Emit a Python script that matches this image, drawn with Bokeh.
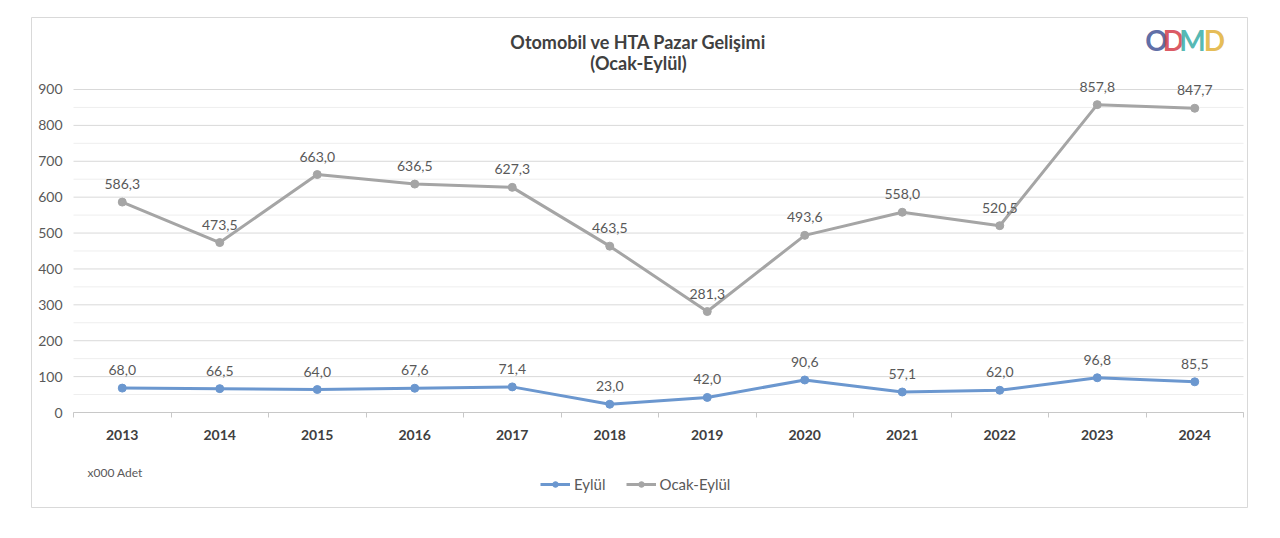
from bokeh.plotting import figure
from bokeh.models import (ColumnDataSource, FixedTicker, Label, Legend, LegendItem)
from bokeh.core.properties import value
from bokeh.embed import file_html
from bokeh.resources import INLINE

years = ["2013", "2014", "2015", "2016", "2017", "2018", "2019", "2020", "2021", "2022", "2023", "2024"]
ocak_eylul = [586.3, 473.5, 663.0, 636.5, 627.3, 463.5, 281.3, 493.6, 558.0, 520.5, 857.8, 847.7]
eylul = [68.0, 66.5, 64.0, 67.6, 71.4, 23.0, 42.0, 90.6, 57.1, 62.0, 96.8, 85.5]
y_ticks = [0, 100, 200, 300, 400, 500, 600, 700, 800, 900]
y_minor = [50, 150, 250, 350, 450, 550, 650, 750, 850]

FONT = "Lato"
TXT = "#595959"
BLUE = "#6b97cf"
GRAY = "#a5a5a5"

xs = list(range(1, len(years) + 1))
x_lo, x_hi = xs[0] - 0.5, xs[-1] + 0.5
fmt = lambda v: f"{v:.1f}".replace(".", ",")

src_a = ColumnDataSource(dict(x=xs, y=ocak_eylul, lab=[fmt(v) for v in ocak_eylul]))
src_b = ColumnDataSource(dict(x=xs, y=eylul, lab=[fmt(v) for v in eylul]))

# The frame is the whole white card; the plot area is a part of it.
p = figure(width=1262, height=536, x_range=(0.0692, 12.541), y_range=(-264.7, 1100.6),
           output_backend="svg", toolbar_location=None,
           min_border_left=31, min_border_right=15, min_border_top=17, min_border_bottom=29)
p.outline_line_color = "#d9d9d9"
p.background_fill_color = "white"
p.border_fill_color = "white"
p.xgrid.grid_line_color = None
p.ygrid.grid_line_color = None

# horizontal gridlines across the plot area only
p.segment(x0=x_lo, x1=x_hi, y0=y_minor, y1=y_minor, line_color="#eeeeee", line_width=1,
          level="underlay")
p.segment(x0=x_lo, x1=x_hi, y0=y_ticks, y1=y_ticks, line_color="#d9d9d9", line_width=1,
          level="underlay")

# y axis (labels only)
p.yaxis.fixed_location = x_lo - 0.04
p.yaxis.ticker = FixedTicker(ticks=y_ticks)
p.yaxis.axis_line_color = None
p.yaxis.major_tick_line_color = None
p.yaxis.minor_tick_line_color = None
p.yaxis.major_tick_out = 0
p.yaxis.minor_tick_out = 0
p.yaxis.major_label_text_font = FONT
p.yaxis.major_label_text_font_size = "14px"
p.yaxis.major_label_text_color = TXT
p.yaxis.major_label_standoff = 7

# x axis at y = 0
p.xaxis.fixed_location = 0
p.xaxis.bounds = (x_lo, x_hi)
p.xaxis.ticker = FixedTicker(ticks=xs, minor_ticks=[x - 0.5 for x in xs] + [x_hi])
p.xaxis.major_label_overrides = {x: y for x, y in zip(xs, years)}
p.xaxis.axis_line_color = "#c8c8c8"
p.xaxis.major_tick_line_color = None
p.xaxis.major_tick_out = 0
p.xaxis.major_tick_in = 0
p.xaxis.minor_tick_line_color = "#c8c8c8"
p.xaxis.minor_tick_out = 5
p.xaxis.minor_tick_in = 0
p.xaxis.major_label_text_font = FONT
p.xaxis.major_label_text_font_size = "14px"
p.xaxis.major_label_text_font_style = "bold"
p.xaxis.major_label_text_color = "#404040"
p.xaxis.major_label_standoff = 12

# series
la = p.line("x", "y", source=src_a, line_color=GRAY, line_width=3)
sa = p.scatter("x", "y", source=src_a, size=8, color=GRAY)
lb = p.line("x", "y", source=src_b, line_color=BLUE, line_width=3)
sb = p.scatter("x", "y", source=src_b, size=8, color=BLUE)

for src in (src_a, src_b):
    p.text("x", "y", text="lab", source=src, y_offset=-13, text_align="center",
           text_baseline="bottom", text_font=value(FONT), text_font_size="14px",
           text_color=TXT)

# title (two lines)
for txt, yy in (("Otomobil ve HTA Pazar Gelişimi", 466), ("(Ocak-Eylül)", 445)):
    p.add_layout(Label(x=607, y=yy, x_units="screen", y_units="screen", text=txt,
                       text_align="center", text_baseline="middle", text_font=FONT,
                       text_font_size="18px", text_font_style="bold", text_color="#404040"))

# logo
for ch, cx, col in zip("ODMD", [1125, 1142, 1161, 1183], ["#4b5b9b", "#d6444f", "#3fb0aa", "#e2b441"]):
    p.add_layout(Label(x=cx, y=468, x_units="screen", y_units="screen", text=ch,
                       text_align="center", text_baseline="middle", text_font=FONT,
                       text_font_size="28px", text_font_style="bold", text_color=col,
                       text_alpha=0.9))

# unit note
p.add_layout(Label(x=56, y=35, x_units="screen", y_units="screen", text="x000 Adet",
                   text_baseline="middle", text_font=FONT, text_font_size="12px",
                   text_color=TXT))

legend = Legend(items=[LegendItem(label="Eylül", renderers=[lb, sb]),
                       LegendItem(label="Ocak-Eylül", renderers=[la, sa])],
                orientation="horizontal", location=(509, 14),
                glyph_width=30, glyph_height=14, label_standoff=4, spacing=20,
                padding=0, margin=0, border_line_color=None, background_fill_alpha=0,
                label_text_font=FONT, label_text_font_size="15px", label_text_color=TXT)
p.add_layout(legend, "center")

open("out.html", "w").write(file_html(p, INLINE))
